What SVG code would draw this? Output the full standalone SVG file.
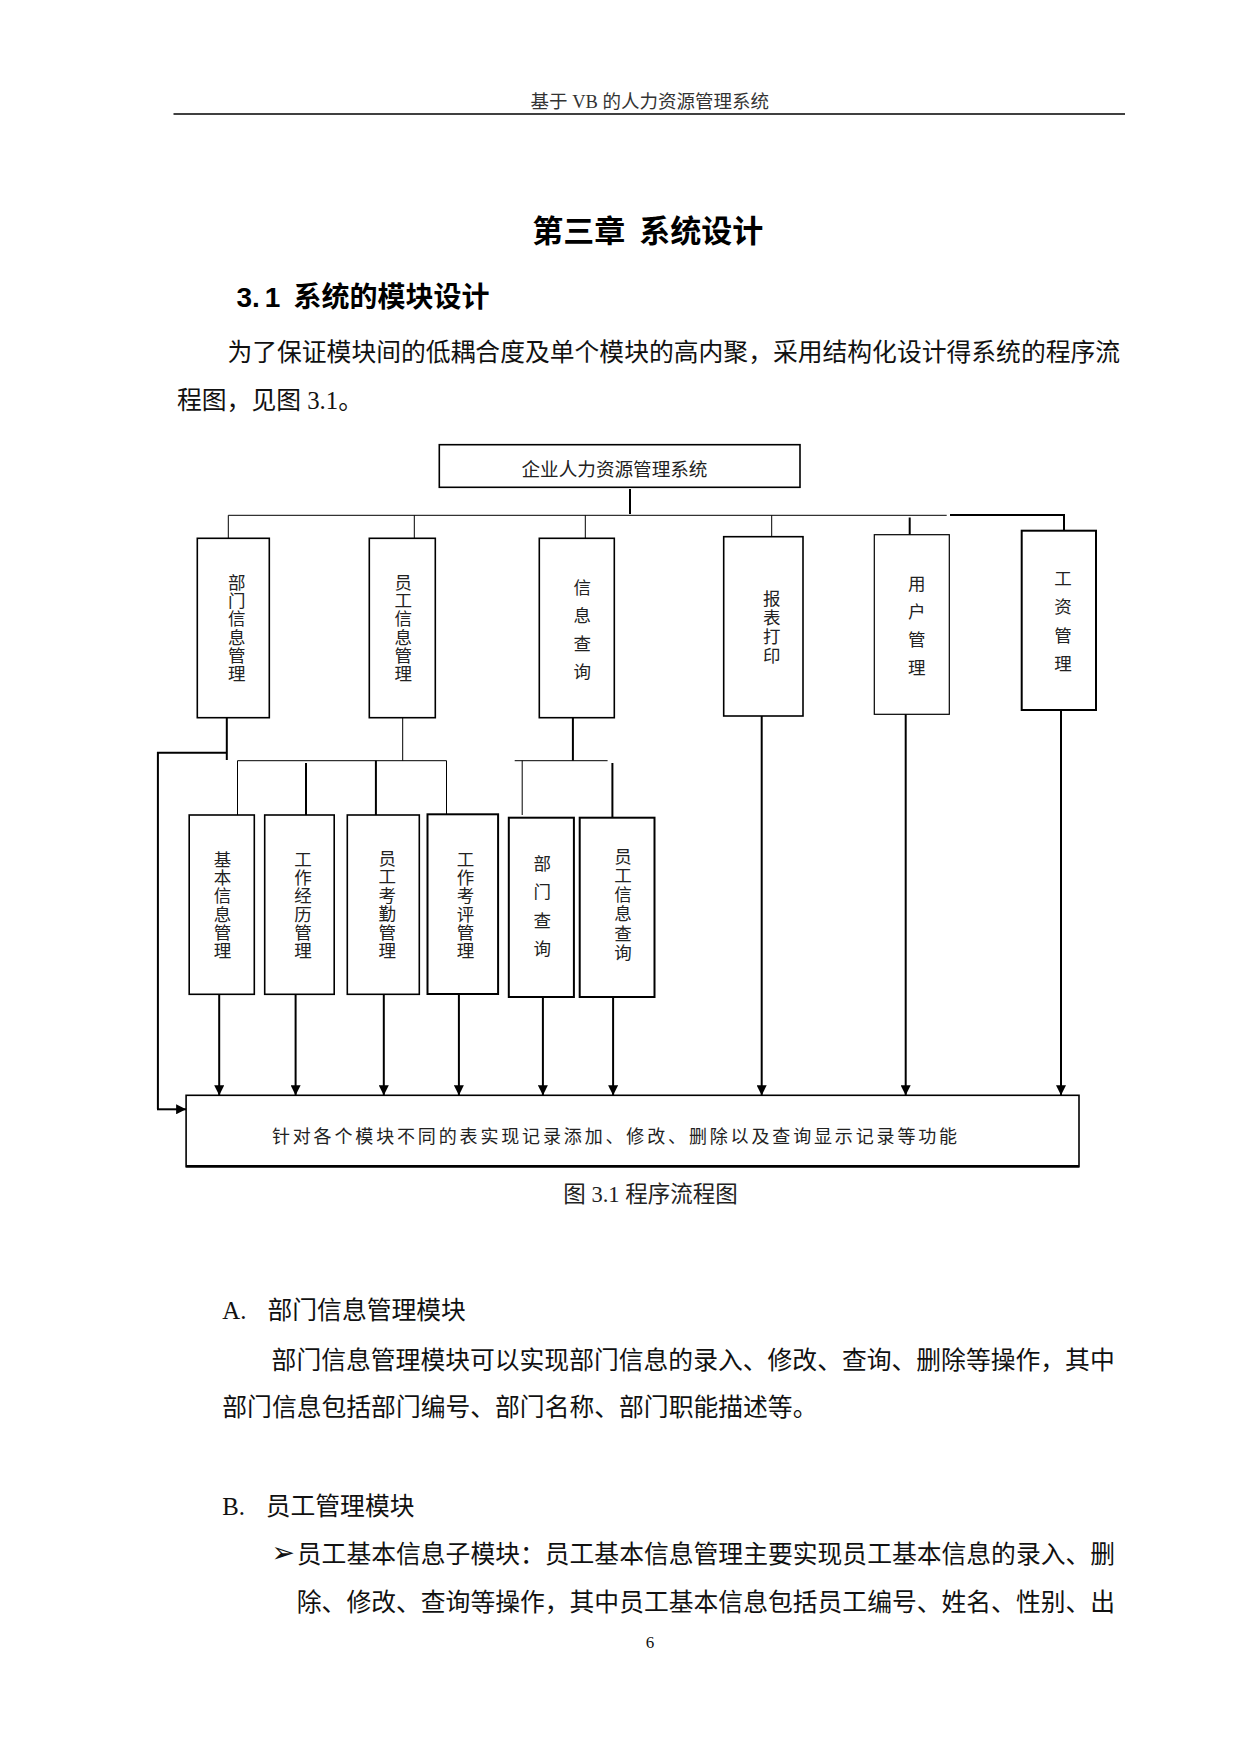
<svg xmlns="http://www.w3.org/2000/svg" width="1241" height="1754" viewBox="0 0 1241 1754">
<style>
.page{fill:#fff}
.box{fill:#fff;stroke:#000;stroke-width:1.6}
.thin{fill:none;stroke:#000;stroke-width:1}
.thick{fill:none;stroke:#000;stroke-width:2}
.arr{fill:none;stroke:#000;stroke-width:2;marker-end:url(#ah)}
.lbl{font-family:"Liberation Serif","Noto Sans CJK SC",serif;font-size:17.5px;fill:#222;text-anchor:middle}
.body{font-family:"Liberation Serif","Noto Sans CJK SC",serif;font-size:24.8px;fill:#111}
.hd{font-family:"Liberation Sans","Noto Sans CJK SC",sans-serif;font-weight:bold;fill:#000}
</style>
<defs>
<marker id="ah" markerUnits="userSpaceOnUse" markerWidth="10" markerHeight="10" refX="10" refY="5" orient="auto">
<path d="M0,0 L10,5 L0,10 z" fill="#000"/>
</marker>
</defs>
<rect class="page" x="0" y="0" width="1241" height="1754"/>

<g id="page-header">
<text x="649.8" y="108.2" text-anchor="middle" style="font-family:'Liberation Serif','Noto Sans CJK SC',serif;font-size:18.5px;fill:#333">基于 VB 的人力资源管理系统</text>
<line x1="173.5" y1="114" x2="1125" y2="114" stroke="#000" stroke-width="1.4"/>
</g>

<g id="headings">
<text class="hd" x="532.3" y="241.5" style="font-size:31px">第三章<tspan dx="14">系统设计</tspan></text>
<text class="hd" x="236.5" y="307" style="font-size:28px">3.<tspan dx="5">1</tspan><tspan dx="13">系统的模块设计</tspan></text>
<text class="body" x="227.4" y="360.9">为了保证模块间的低耦合度及单个模块的高内聚，采用结构化设计得系统的程序流</text>
<text class="body" x="177" y="408.5">程图，见图 3.1。</text>
</g>

<g id="connectors">
<line class="thick" x1="630" y1="489" x2="630" y2="514"/>
<line class="thin" x1="228.3" y1="515.3" x2="946.7" y2="515.3"/>
<polyline class="thick" points="950,515 1064,515 1064,530.7"/>
<line class="thin" x1="228.3" y1="515.3" x2="228.3" y2="538.3"/>
<line class="thin" x1="414.3" y1="515.3" x2="414.3" y2="538.3"/>
<line class="thin" x1="585.3" y1="515.3" x2="585.3" y2="538.3"/>
<line class="thin" x1="771.7" y1="515.3" x2="771.7" y2="536.7"/>
<line class="thick" x1="909.7" y1="517.5" x2="909.7" y2="534.7"/>

<line class="thick" x1="226.8" y1="717.7" x2="226.8" y2="760"/>
<polyline class="thick" points="226.8,752.7 157.9,752.7 157.9,1109.3"/>
<line class="arr" x1="157" y1="1109.3" x2="186.1" y2="1109.3"/>

<line class="thin" x1="402.7" y1="717.7" x2="402.7" y2="760.7"/>
<line class="thin" x1="237.5" y1="760.7" x2="446.5" y2="760.7"/>
<line class="thin" x1="237.5" y1="760.7" x2="237.5" y2="815"/>
<line class="thick" x1="306" y1="763" x2="306" y2="815"/>
<line class="thick" x1="375.9" y1="760.7" x2="375.9" y2="815"/>
<line class="thin" x1="446.5" y1="760.7" x2="446.5" y2="816"/>

<line class="thick" x1="572.9" y1="717.7" x2="572.9" y2="760.7"/>
<line class="thin" x1="514.7" y1="760.7" x2="607.6" y2="760.7"/>
<line class="thin" x1="522.2" y1="760.7" x2="522.2" y2="815"/>
<line class="thick" x1="612.4" y1="763" x2="612.4" y2="817.7"/>

<line class="arr" x1="219.2" y1="994.3" x2="219.2" y2="1095.3"/>
<line class="arr" x1="295.6" y1="994.3" x2="295.6" y2="1095.3"/>
<line class="arr" x1="383.8" y1="994.3" x2="383.8" y2="1095.3"/>
<line class="arr" x1="458.9" y1="994.3" x2="458.9" y2="1095.3"/>
<line class="arr" x1="542.9" y1="997" x2="542.9" y2="1095.3"/>
<line class="arr" x1="613.1" y1="997" x2="613.1" y2="1095.3"/>
<line class="arr" x1="761.7" y1="716" x2="761.7" y2="1095.3"/>
<line class="arr" x1="905.7" y1="710" x2="905.7" y2="1095.3"/>
<line class="arr" x1="1061" y1="710" x2="1061" y2="1095.3"/>
</g>

<g id="n-root">
<rect class="box" x="439.3" y="444.7" width="360.7" height="42.6"/>
<text class="lbl" x="614.5" y="476.2" style="font-size:18.6px">企业人力资源管理系统</text>
</g>

<g id="n-dept">
<rect class="box" x="197.3" y="538.3" width="72" height="179.4"/>
<text class="lbl"><tspan x="236.7" y="588.7">部</tspan><tspan x="236.7" y="607">门</tspan><tspan x="236.7" y="625.3">信</tspan><tspan x="236.7" y="643.7">息</tspan><tspan x="236.7" y="662">管</tspan><tspan x="236.7" y="680.3">理</tspan></text>
</g>

<g id="n-emp">
<rect class="box" x="369.3" y="538.3" width="66" height="179.4"/>
<text class="lbl"><tspan x="403.3" y="588.7">员</tspan><tspan x="403.3" y="607">工</tspan><tspan x="403.3" y="625.3">信</tspan><tspan x="403.3" y="643.7">息</tspan><tspan x="403.3" y="662">管</tspan><tspan x="403.3" y="680.3">理</tspan></text>
</g>

<g id="n-query">
<rect class="box" x="539.3" y="538.3" width="75" height="179.4"/>
<text class="lbl"><tspan x="582.3" y="593.5">信</tspan><tspan x="582.3" y="621.5">息</tspan><tspan x="582.3" y="649.5">查</tspan><tspan x="582.3" y="677.5">询</tspan></text>
</g>

<g id="n-report">
<rect class="box" x="723.7" y="536.7" width="79.3" height="179.3"/>
<text class="lbl"><tspan x="771.7" y="604.5">报</tspan><tspan x="771.7" y="623.5">表</tspan><tspan x="771.7" y="642.5">打</tspan><tspan x="771.7" y="661.5">印</tspan></text>
</g>

<g id="n-user">
<rect class="box" x="874.3" y="534.7" width="75" height="179.6" style="stroke-width:1.2"/>
<text class="lbl"><tspan x="916.7" y="589.5">用</tspan><tspan x="916.7" y="617.5">户</tspan><tspan x="916.7" y="645.5">管</tspan><tspan x="916.7" y="673.5">理</tspan></text>
</g>

<g id="n-salary">
<rect class="box" x="1021.7" y="530.7" width="74.3" height="179.3" style="stroke-width:2"/>
<text class="lbl"><tspan x="1063" y="584.5">工</tspan><tspan x="1063" y="612.5">资</tspan><tspan x="1063" y="641.5">管</tspan><tspan x="1063" y="669.5">理</tspan></text>
</g>

<g id="n-basic">
<rect class="box" x="189.2" y="815" width="65.1" height="179.3"/>
<text class="lbl"><tspan x="222.6" y="865.7">基</tspan><tspan x="222.6" y="884">本</tspan><tspan x="222.6" y="902.3">信</tspan><tspan x="222.6" y="920.7">息</tspan><tspan x="222.6" y="939">管</tspan><tspan x="222.6" y="957.3">理</tspan></text>
</g>

<g id="n-career">
<rect class="box" x="264.7" y="815" width="69.5" height="179.3"/>
<text class="lbl"><tspan x="302.9" y="865.7">工</tspan><tspan x="302.9" y="884">作</tspan><tspan x="302.9" y="902.3">经</tspan><tspan x="302.9" y="920.7">历</tspan><tspan x="302.9" y="939">管</tspan><tspan x="302.9" y="957.3">理</tspan></text>
</g>

<g id="n-attend">
<rect class="box" x="347.3" y="815" width="72" height="179.3"/>
<text class="lbl"><tspan x="387.2" y="864.7">员</tspan><tspan x="387.2" y="883.2">工</tspan><tspan x="387.2" y="901.7">考</tspan><tspan x="387.2" y="920.2">勤</tspan><tspan x="387.2" y="938.7">管</tspan><tspan x="387.2" y="957.3">理</tspan></text>
</g>

<g id="n-eval">
<rect class="box" x="427.5" y="814.3" width="70.6" height="179.7" style="stroke-width:2"/>
<text class="lbl"><tspan x="465.4" y="865.7">工</tspan><tspan x="465.4" y="884">作</tspan><tspan x="465.4" y="902.3">考</tspan><tspan x="465.4" y="920.7">评</tspan><tspan x="465.4" y="939">管</tspan><tspan x="465.4" y="957.3">理</tspan></text>
</g>

<g id="n-deptq">
<rect class="box" x="508.8" y="817.7" width="65.1" height="179.3" style="stroke-width:2"/>
<text class="lbl"><tspan x="542.2" y="869.8">部</tspan><tspan x="542.2" y="898.2">门</tspan><tspan x="542.2" y="926.5">查</tspan><tspan x="542.2" y="954.8">询</tspan></text>
</g>

<g id="n-empq">
<rect class="box" x="579.7" y="817.7" width="74.8" height="179.3" style="stroke-width:2"/>
<text class="lbl"><tspan x="623.1" y="862.8">员</tspan><tspan x="623.1" y="882">工</tspan><tspan x="623.1" y="901.2">信</tspan><tspan x="623.1" y="920.4">息</tspan><tspan x="623.1" y="939.6">查</tspan><tspan x="623.1" y="958.8">询</tspan></text>
</g>

<g id="n-func">
<rect class="box" x="186.1" y="1095.3" width="892.9" height="71.4"/>
<line x1="186.1" y1="1166.2" x2="1079" y2="1166.2" stroke="#000" stroke-width="2.4"/>
<text x="271.9" y="1142.5" style="font-family:'Liberation Serif','Noto Sans CJK SC',serif;font-size:18px;letter-spacing:2.85px;fill:#222">针对各个模块不同的表实现记录添加、修改、删除以及查询显示记录等功能</text>
</g>

<g id="caption">
<text x="563.3" y="1201.5" style="font-family:'Liberation Serif','Noto Sans CJK SC',serif;font-size:22.5px;fill:#222">图 3.1 程序流程图</text>
</g>

<g id="body-text">
<text class="body" x="222.3" y="1319.2">A.</text>
<text class="body" x="267.5" y="1319.2">部门信息管理模块</text>
<text class="body" x="271.6" y="1368.5">部门信息管理模块可以实现部门信息的录入、修改、查询、删除等操作，其中</text>
<text class="body" x="222.3" y="1415.9">部门信息包括部门编号、部门名称、部门职能描述等。</text>
<text class="body" x="222.3" y="1515.2">B.</text>
<text class="body" x="265.7" y="1515.2">员工管理模块</text>
<text x="271.5" y="1562" style="font-family:'DejaVu Sans',sans-serif;font-size:28px;fill:#111">➢</text>
<text class="body" x="296.8" y="1562.5">员工基本信息子模块：员工基本信息管理主要实现员工基本信息的录入、删</text>
<text class="body" x="296.8" y="1610.9">除、修改、查询等操作，其中员工基本信息包括员工编号、姓名、性别、出</text>
<text x="649.9" y="1648" text-anchor="middle" style="font-family:'Liberation Serif',serif;font-size:17px;fill:#111">6</text>
</g>
</svg>
